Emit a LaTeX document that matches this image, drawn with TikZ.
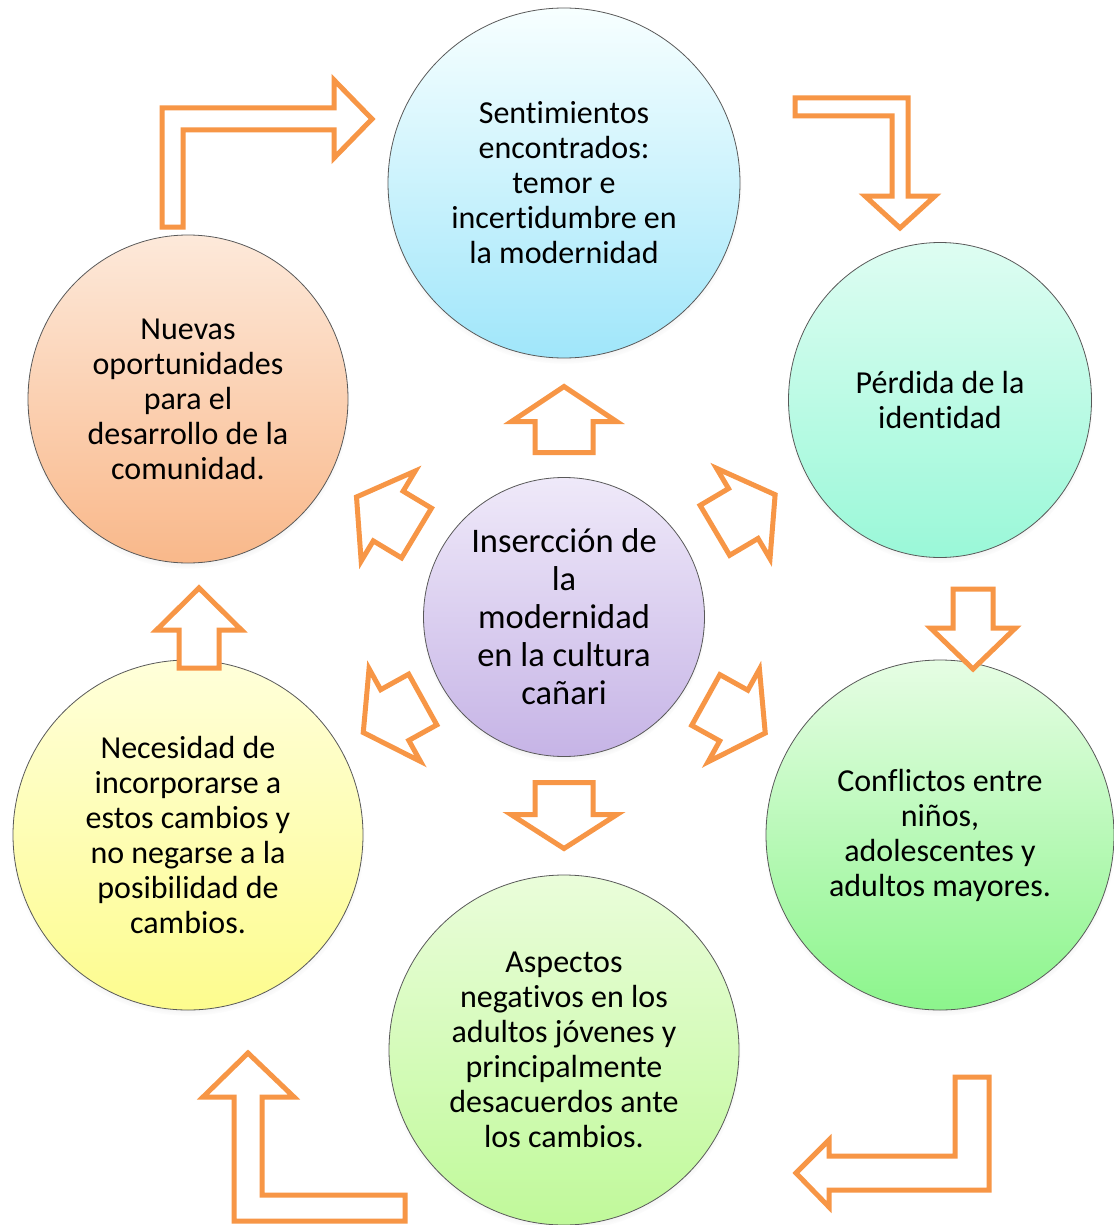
\documentclass[tikz,border=0pt]{standalone}
\usepackage{fontspec}
\setmainfont{Carlito}[Ligatures=NoCommon]
\usetikzlibrary{shapes.geometric,shadows,fadings}
\definecolor{arrorange}{HTML}{F79646}
\tikzset{
  bub/.style={ellipse, draw=black!65, line width=0.8pt, inner sep=0pt, align=center,
    font=\fontsize{32}{35}\selectfont, text=black,
    circular drop shadow={shadow xshift=0pt, shadow yshift=-4pt, shadow scale=1.01, opacity=0.35}},
  arr/.style={draw=arrorange, line width=5pt, fill=white, line join=miter},
  pics/barrow/.style n args={4}{code={
    \draw[arr] (-#1/2,#4/2) -- (#1/2-#2,#4/2) -- (#1/2-#2,#3/2) -- (#1/2,0)
      -- (#1/2-#2,-#3/2) -- (#1/2-#2,-#4/2) -- (-#1/2,-#4/2) -- cycle;
  }}
}
\begin{document}
\begin{tikzpicture}[x=1pt,y=-1pt]
\useasboundingbox[fill=white] (0,0) rectangle (1113,1225);

% circles
\node[bub, minimum width=352pt, minimum height=350pt, top color=cyan!3!white, bottom color={rgb,255:red,160;green,230;blue,250}] (top) at (564,183)
  {Sentimientos\\encontrados:\\temor e\\incertidumbre en\\la modernidad};
\node[bub, minimum width=303pt, minimum height=315pt, top color={rgb,255:red,222;green,253;blue,242}, bottom color={rgb,255:red,154;green,248;blue,216}] (rt) at (940,400)
  {Pérdida de la\\identidad};
\node[bub, minimum width=348pt, minimum height=350pt, top color={rgb,255:red,230;green,253;blue,228}, bottom color={rgb,255:red,140;green,245;blue,140}] (rb) at (940,835)
  {Conflictos entre\\niños,\\adolescentes y\\adultos mayores.};
\node[bub, minimum width=350pt, minimum height=350pt, top color={rgb,255:red,234;green,253;blue,218}, bottom color={rgb,255:red,192;green,249;blue,154}] (bot) at (564,1050)
  {Aspectos\\negativos en los\\adultos jóvenes y\\principalmente\\desacuerdos ante\\los cambios.};
\node[bub, minimum width=350pt, minimum height=350pt, top color={rgb,255:red,255;green,255;blue,218}, bottom color={rgb,255:red,253;green,252;blue,142}] (lb) at (188,835)
  {Necesidad de\\incorporarse a\\estos cambios y\\no negarse a la\\posibilidad de\\cambios.};
\node[bub, minimum width=320pt, minimum height=328pt, top color={rgb,255:red,253;green,233;blue,218}, bottom color={rgb,255:red,249;green,184;blue,138}] (lt) at (188,399)
  {Nuevas\\oportunidades\\para el\\desarrollo de la\\comunidad.};
\node[bub, minimum width=281pt, minimum height=279pt, font=\fontsize{34.5}{38}\selectfont, top color={rgb,255:red,239;green,233;blue,249}, bottom color={rgb,255:red,198;green,180;blue,230}] (ctr) at (564,617)
  {Insercción de\\la\\modernidad\\en la cultura\\cañari};

% radial block arrows
\pic[rotate=90] at (564,419.5) {barrow={66}{35}{105}{58}};
\pic[rotate=-90] at (564,815.5) {barrow={66}{34}{106}{58}};
\pic[rotate=149] at (386.5,515) {barrow={70}{37}{105}{58}};
\pic[rotate=30.6] at (745,512.5) {barrow={70}{37}{105}{58}};
\pic[rotate=209] at (393,716) {barrow={68}{36}{106}{58}};
\pic[rotate=-29] at (735.5,716.5) {barrow={68}{36}{106}{58}};

% small vertical arrows
\pic[rotate=-90] at (973,629) {barrow={80}{41}{85}{40}};
\pic[rotate=90] at (199,628) {barrow={80}{42}{85}{40}};

% bent arrows
\draw[arr] (162,227) -- (162,108) -- (334,108) -- (334,80) -- (372,119) -- (334,158)
  -- (334,130) -- (183,130) -- (183,227) -- cycle;
\draw[arr] (795,98) -- (908,98) -- (908,196) -- (935,196) -- (900,228) -- (865,196)
  -- (892,196) -- (892,116) -- (795,116) -- cycle;
\draw[arr] (955,1077) -- (989,1077) -- (989,1190) -- (829,1190) -- (829,1207) -- (796,1173)
  -- (829,1140) -- (829,1156) -- (955,1156) -- cycle;
\draw[arr] (248,1053) -- (294,1097) -- (262,1097) -- (262,1195) -- (405,1195) -- (405,1221)
  -- (234,1221) -- (234,1097) -- (203,1097) -- cycle;
\end{tikzpicture}
\end{document}
